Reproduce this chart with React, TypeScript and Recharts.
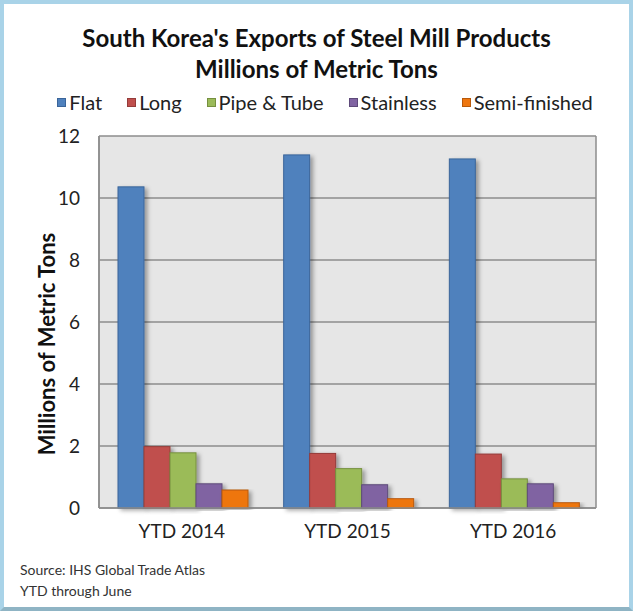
import React from "react";
import {
  BarChart,
  Bar,
  XAxis,
  YAxis,
  CartesianGrid,
} from "recharts";

// Exports by period, millions of metric tons
const periods = ["YTD 2014", "YTD 2015", "YTD 2016"];
const flat = [10.36, 11.39, 11.26];
const long = [1.98, 1.76, 1.74];
const pipeTube = [1.78, 1.27, 0.94];
const stainless = [0.78, 0.75, 0.78];
const semiFinished = [0.58, 0.3, 0.17];
const yTicks = [0, 2, 4, 6, 8, 10, 12];

const series = [
  { key: "flat", name: "Flat", fill: "#4F81BD", stroke: "#3A659A" },
  { key: "long", name: "Long", fill: "#C0504D", stroke: "#953C3A" },
  { key: "pipe", name: "Pipe & Tube", fill: "#9BBB59", stroke: "#76903F" },
  { key: "stainless", name: "Stainless", fill: "#8064A2", stroke: "#5E4A7A" },
  { key: "semi", name: "Semi-finished", fill: "#EE760F", stroke: "#B8590A" },
];

const data = periods.map((p, i) => ({
  period: p,
  flat: flat[i],
  long: long[i],
  pipe: pipeTube[i],
  stainless: stainless[i],
  semi: semiFinished[i],
}));

const FONT = "Lato, 'Open Sans', sans-serif";

function ShadowBar(props: any) {
  const { x, y, width, height, fill, stroke } = props;
  if (height <= 0) return null;
  return (
    <rect
      x={x}
      y={y}
      width={width}
      height={height}
      fill={fill}
      stroke={stroke}
      strokeWidth={1}
      filter="url(#barShadow)"
    />
  );
}

export default function App() {
  return (
    <div
      style={{
        position: "absolute",
        left: 0,
        top: 0,
        width: 633,
        height: 614,
        background: "#fff",
        fontFamily: FONT,
      }}
    >
      <div
        style={{
          position: "absolute",
          left: 0,
          top: 0,
          width: 633,
          height: 611,
          boxSizing: "border-box",
          border: "4px solid #A9D3E8",
          borderBottomColor: "#8FB4C4",
        }}
      />
      <div
        style={{
          position: "absolute",
          left: 0,
          width: 633,
          top: 22,
          textAlign: "center",
          fontWeight: 700,
          fontSize: 24,
          lineHeight: "31px",
          color: "#111",
        }}
      >
        South Korea's Exports of Steel Mill Products
        <br />
        Millions of Metric Tons
      </div>
      {/* legend */}
      <div
        style={{
          position: "absolute",
          left: 0,
          width: 650,
          top: 89,
          display: "flex",
          justifyContent: "center",
          gap: 25,
          fontSize: 20,
          lineHeight: "26px",
          color: "#222",
        }}
      >
        {series.map((s) => (
          <div key={s.key} style={{ display: "flex", alignItems: "center" }}>
            <span
              style={{
                width: 9,
                height: 9,
                background: s.fill,
                border: "1px solid " + s.stroke,
                marginRight: 3,
                boxSizing: "border-box",
              }}
            />
            <span>{s.name}</span>
          </div>
        ))}
      </div>
      <div
        style={{
          position: "absolute",
          left: 46,
          top: 344,
          transform: "translate(-50%, -50%) rotate(-90deg)",
          whiteSpace: "nowrap",
          fontWeight: 700,
          fontSize: 22,
          color: "#111",
        }}
      >
        Millions of Metric Tons
      </div>
      <div
        style={{
          position: "absolute",
          left: 20,
          top: 559,
          fontSize: 14,
          lineHeight: "21px",
          color: "#333",
        }}
      >
        Source: IHS Global Trade Atlas
        <br />
        YTD through June
      </div>
      <div style={{ position: "absolute", left: 0, top: 0 }}>
        <BarChart
          width={633}
          height={614}
          data={data}
          margin={{ top: 136, right: 37, bottom: 66, left: 0 }}
          barCategoryGap={19}
          barGap={0}
        >
          <defs>
            <filter id="barShadow" x="-20%" y="-5%" width="160%" height="115%">
              <feDropShadow
                dx="3"
                dy="2"
                stdDeviation="2"
                floodColor="#000"
                floodOpacity="0.35"
              />
            </filter>
          </defs>
          <CartesianGrid
            vertical
            fill="#E6E6E6"
            stroke="#8C8C8C"
            strokeWidth={1.5}
            verticalCoordinatesGenerator={({ offset }: any) => [
              offset.left,
              offset.left + offset.width,
            ]}
          />
          <XAxis
            dataKey="period"
            tickLine={false}
            axisLine={{ stroke: "#8C8C8C", strokeWidth: 1.5 }}
            tickSize={0}
            tickMargin={17}
            height={40}
            tick={{ fontSize: 19, fill: "#222", fontFamily: FONT }}
          />
          <YAxis
            domain={[0, 12]}
            ticks={yTicks}
            width={99}
            tickLine={false}
            axisLine={{ stroke: "#8C8C8C", strokeWidth: 1.5 }}
            tickSize={0}
            tickMargin={19}
            tick={{ fontSize: 19, fill: "#222", fontFamily: FONT }}
          />
          {series.map((s) => (
            <Bar
              key={s.key}
              dataKey={s.key}
              name={s.name}
              fill={s.fill}
              stroke={s.stroke}
              shape={<ShadowBar />}
              isAnimationActive={false}
            />
          ))}
        </BarChart>
      </div>
    </div>
  );
}
